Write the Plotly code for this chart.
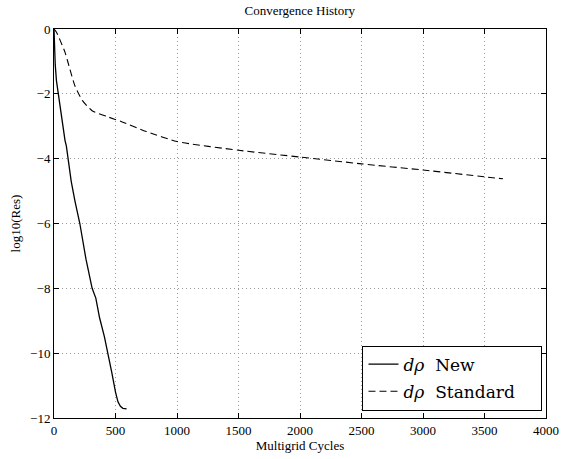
import plotly.graph_objects as go

# Data
new_x = [0, 5, 10, 20, 35, 50, 70, 90, 100, 115, 130, 140, 170, 210, 260, 310, 340, 370, 410, 440, 470, 500, 520, 540, 560, 590]
new_y = [0, -0.6, -1.1, -1.6, -2.0, -2.4, -3.0, -3.45, -3.6, -4.0, -4.35, -4.7, -5.3, -6.0, -7.1, -8.0, -8.3, -8.9, -9.5, -10.0, -10.6, -11.2, -11.5, -11.64, -11.7, -11.72]

std_x = [0, 20, 50, 90, 130, 170, 230, 310, 430, 550, 750, 1000, 1500, 2000, 2500, 3000, 3500, 3650]
std_y = [0, -0.1, -0.35, -0.72, -1.25, -1.75, -2.2, -2.52, -2.7, -2.86, -3.16, -3.47, -3.74, -3.95, -4.16, -4.35, -4.56, -4.62]

x_ticks = [0, 500, 1000, 1500, 2000, 2500, 3000, 3500, 4000]
y_ticks = [0, -2, -4, -6, -8, -10, -12]

names = ["<i>dρ</i>  New", "<i>dρ</i>  Standard"]

serif = "Liberation Serif"

fig = go.Figure()
fig.add_trace(go.Scatter(x=new_x, y=new_y, mode="lines", name=names[0], legendgroup="a",
                         line=dict(color="black", width=1.3, dash="solid")))
fig.add_trace(go.Scatter(x=std_x, y=std_y, mode="lines", name=names[1] + "&nbsp;&nbsp;&nbsp;&nbsp;", legendgroup="b",
                         line=dict(color="black", width=1.1, dash="7px,4px", shape="spline", smoothing=0.6)))

axis_common = dict(showline=True, linecolor="black", linewidth=1, mirror="ticks",
                   ticks="inside", ticklen=5, tickcolor="black",
                   showgrid=True, gridcolor="#999", griddash="1px,3px", gridwidth=1,
                   zeroline=False, tickfont=dict(family=serif, size=13, color="black"))

fig.update_xaxes(range=[0, 4000], tickvals=x_ticks,
                 title=dict(text="Multigrid Cycles", font=dict(family=serif, size=13, color="black"), standoff=0),
                 **axis_common)
fig.update_yaxes(range=[-12, 0], tickvals=y_ticks,
                 title=dict(text="log10(Res)", font=dict(family=serif, size=13, color="black"), standoff=6),
                 **axis_common)

fig.update_layout(
    width=571, height=459,
    margin=dict(l=54, r=18, t=29, b=36),
    paper_bgcolor="white", plot_bgcolor="white",
    title=dict(text="Convergence History", x=0.525, xanchor="center", y=0.988, yanchor="top",
               font=dict(family=serif, size=13, color="black")),
    legend=dict(x=0.627, y=0.186, xanchor="left", yanchor="top",
                bgcolor="white", bordercolor="black", borderwidth=1,
                font=dict(family="DejaVu Serif", size=17, color="black"),
                itemwidth=30, tracegroupgap=2, traceorder="grouped"),
    showlegend=True,
)

fig.write_html("out.html")
